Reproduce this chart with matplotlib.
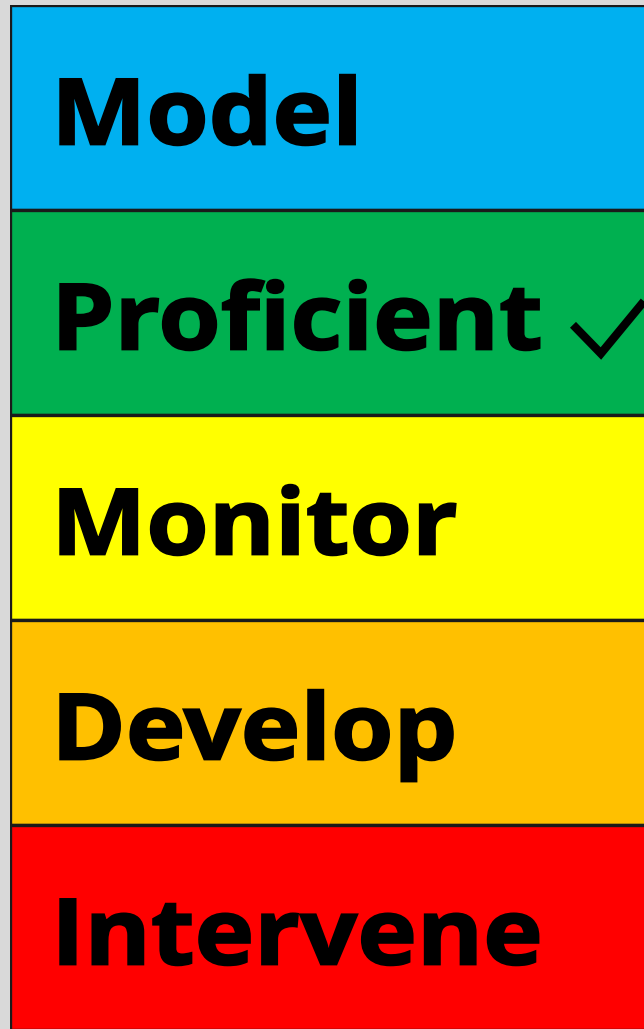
import matplotlib
matplotlib.use("Agg")
import matplotlib.pyplot as plt
from matplotlib.textpath import TextPath
from matplotlib.patches import PathPatch
from matplotlib.font_manager import FontProperties
from matplotlib.transforms import Affine2D, ScaledTranslation

levels = ["Model", "Proficient", "Monitor", "Develop", "Intervene"]
colors = ["#00B0F0", "#00B050", "#FFFF00", "#FFC000", "#FF0000"]
checked = "Proficient"

dpi = 100
fig = plt.figure(figsize=(6.44, 10.29), dpi=dpi)
fig.patch.set_facecolor("#d9d9d9")
ax = fig.add_axes([10 / 644, 0, 1 - 10 / 644, 1 - 5 / 1029])

pos = list(range(len(levels)))
ax.barh(pos, [1.2] * len(levels), height=1, left=0, color=colors,
        edgecolor="#1a1a1a", linewidth=2.4)
ax.set_xlim(0, 1.0)
ax.set_ylim(len(levels) - 0.5 - 0.005, -0.5)
ax.axis("off")

# labels: bold text drawn as paths, a bit wider than the stock font
fp = FontProperties(family="Open Sans", weight="bold")
stretch = 1.1
size = 66
for i, name in enumerate(levels):
    tp = TextPath((0, 0), name, size=size, prop=fp)
    tr = (Affine2D().scale(stretch * dpi / 72, dpi / 72)
          + ScaledTranslation(0.065, i + 0.18, ax.transData))
    ax.add_patch(PathPatch(tp, transform=tr, facecolor="black",
                           edgecolor="black", linewidth=1.4, clip_on=False))

k = levels.index(checked)
ax.plot([0.888, 0.932, 1.0], [k + 0.06, k + 0.20, k - 0.055], color="black",
        linewidth=6, solid_joinstyle="miter", solid_capstyle="butt",
        clip_on=False)

fig.savefig("out.png", dpi=dpi, facecolor=fig.get_facecolor())
